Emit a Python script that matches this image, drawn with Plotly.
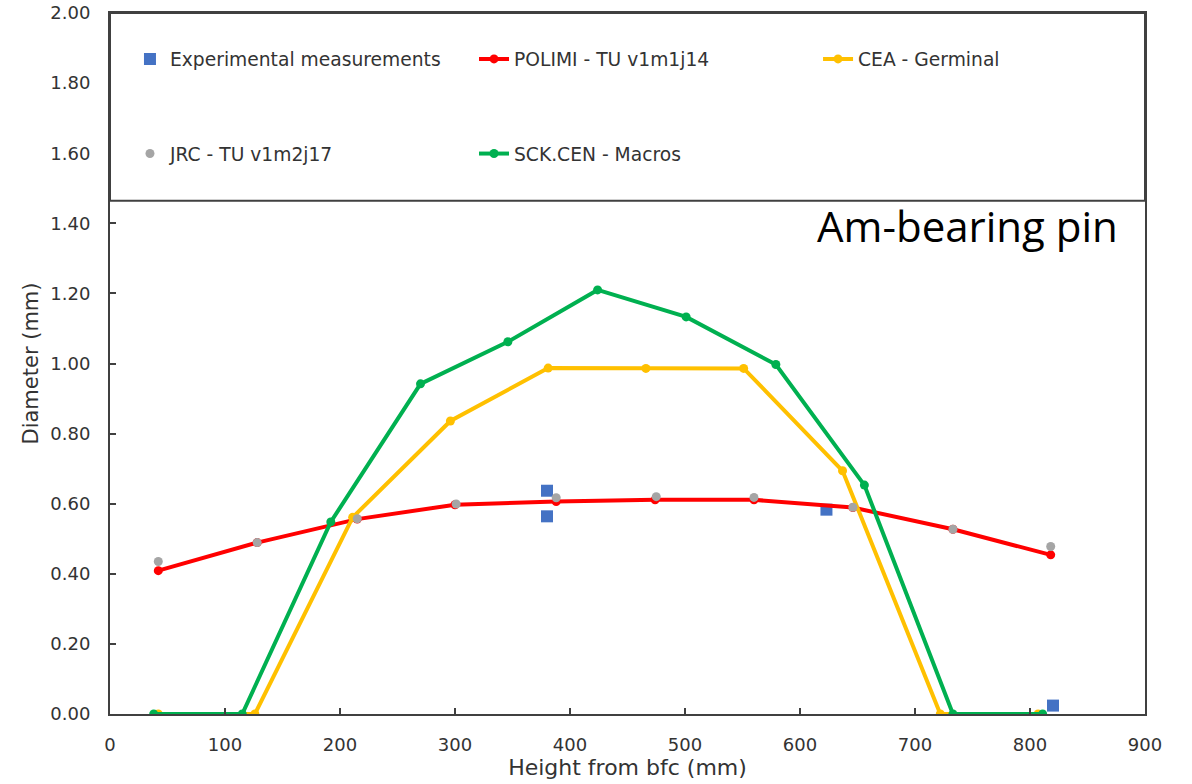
import plotly.graph_objects as go

# ---- data ----
exp_x = [380, 380, 623, 820]
exp_y = [0.637, 0.564, 0.583, 0.024]

polimi_x = [42, 128, 215, 300, 388, 474, 560, 646, 733, 818]
polimi_y = [0.409, 0.489, 0.556, 0.597, 0.606, 0.611, 0.611, 0.589, 0.527, 0.454]

cea_x = [42, 126, 211, 296, 381, 466, 551, 637, 722, 807]
cea_y = [0.0, 0.0, 0.561, 0.836, 0.987, 0.986, 0.986, 0.694, 0.0, 0.0]

jrc_x = [42, 128, 215, 301, 388, 475, 560, 646, 733, 818]
jrc_y = [0.435, 0.489, 0.557, 0.599, 0.617, 0.620, 0.618, 0.590, 0.527, 0.478]

sck_x = [38, 115, 192, 270, 346, 424, 501, 579, 656, 733, 811]
sck_y = [0.0, 0.0, 0.548, 0.942, 1.062, 1.210, 1.133, 0.997, 0.653, 0.0, 0.0]

x_ticks = [0, 100, 200, 300, 400, 500, 600, 700, 800, 900]
y_ticks = [0.0, 0.2, 0.4, 0.6, 0.8, 1.0, 1.2, 1.4, 1.6, 1.8, 2.0]
legend_split = 1.464

FONT = "DejaVu Sans"
TXT = "#333333"

fig = go.Figure()
fig.add_trace(go.Scatter(x=exp_x, y=exp_y, mode="markers", name="Experimental measurements",
                         marker=dict(symbol="square", size=12, color="#4472C4"), legend="legend"))
fig.add_trace(go.Scatter(x=polimi_x, y=polimi_y, mode="lines+markers", name="POLIMI - TU v1m1j14",
                         line=dict(color="#FF0000", width=4), marker=dict(size=9, color="#FF0000"),
                         legend="legend2"))
fig.add_trace(go.Scatter(x=cea_x, y=cea_y, mode="lines+markers", name="CEA - Germinal",
                         line=dict(color="#FFC000", width=4), marker=dict(size=9, color="#FFC000"),
                         legend="legend3"))
fig.add_trace(go.Scatter(x=sck_x, y=sck_y, mode="lines+markers", name="SCK.CEN - Macros",
                         line=dict(color="#00B050", width=4), marker=dict(size=9, color="#00B050"),
                         legend="legend5"))
fig.add_trace(go.Scatter(x=jrc_x, y=jrc_y, mode="markers", name="JRC - TU v1m2j17",
                         marker=dict(size=9, color="#A5A5A5"), legend="legend4"))

# white band hiding the upper region (legend panel) with its dividing line
fig.add_shape(type="rect", xref="x", yref="y", x0=0, x1=900, y0=legend_split, y1=2.0,
              fillcolor="white", line=dict(color="#404040", width=2), layer="above")

fig.add_annotation(text="Am-bearing pin", xref="paper", yref="paper", x=0.976, y=0.697,
                   xanchor="right", yanchor="middle", showarrow=False,
                   font=dict(family="Open Sans", size=42, color="black"))

axis_common = dict(showline=True, linecolor="#404040", linewidth=2, mirror=True,
                   ticks="inside", ticklen=6, tickcolor="#404040", tickwidth=1.5,
                   showgrid=False, zeroline=False, automargin=False,
                   tickfont=dict(family=FONT, size=18, color=TXT))

fig.update_xaxes(range=[0, 900], tickvals=x_ticks, ticktext=[str(v) for v in x_ticks],
                 title=dict(text="Height from bfc (mm)", font=dict(family=FONT, size=22, color=TXT),
                            standoff=6),
                 ticklabelstandoff=13, **axis_common)
fig.update_yaxes(range=[0, 2.0], tickvals=y_ticks, ticktext=[f"{v:.2f}" for v in y_ticks],
                 title=dict(text="Diameter (mm)", font=dict(family=FONT, size=21, color=TXT),
                            standoff=6),
                 ticklabelstandoff=14, **axis_common)

leg_common = dict(orientation="h", xanchor="left", yanchor="middle", bgcolor="rgba(0,0,0,0)",
                  borderwidth=0, font=dict(family=FONT, size=18.7, color=TXT))
row1, row2 = 0.934, 0.799
col1, col2, col3 = 0.0193, 0.3517, 0.6841
fig.update_layout(
    width=1192, height=784,
    margin=dict(l=110, r=47, t=13, b=70),
    paper_bgcolor="white", plot_bgcolor="white",
    showlegend=True,
    legend=dict(x=col1, y=row1, **leg_common),
    legend2=dict(x=col2, y=row1, **leg_common),
    legend3=dict(x=col3, y=row1, **leg_common),
    legend4=dict(x=col1, y=row2, **leg_common),
    legend5=dict(x=col2, y=row2, **leg_common),
)

fig.write_html("out.html")
